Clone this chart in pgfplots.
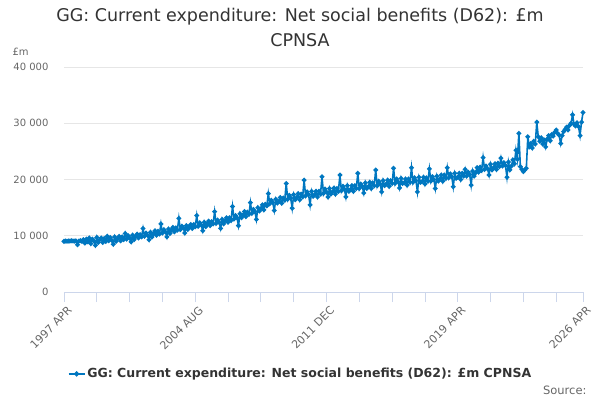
\documentclass[border=0pt]{standalone}
\usepackage{pgfplots}
\usepackage{pgfplotstable}
\pgfplotsset{compat=1.18}
\usepackage{fontspec}
\setmainfont{DejaVu Sans}
\definecolor{ons}{HTML}{0077C0}
\definecolor{axgray}{HTML}{CCD6EB}
\definecolor{gridgray}{HTML}{E6E6E6}
\definecolor{labgray}{HTML}{666666}
\definecolor{txt}{HTML}{333333}
\pgfplotstableread{
v
9000
9050
9020
9080
9050
9100
9060
9040
9100
8400
9050
9120
9000
9300
8700
9400
8900
9600
8600
9400
9100
8300
9700
8800
9300
9600
8800
9500
9000
9900
9100
9700
9200
8500
9800
9000
9500
9900
9100
9800
9300
10400
9400
10000
9600
8900
10100
9300
9900
10300
9600
10200
9800
11300
9900
10500
10100
9300
10600
9800
10400
10900
10100
10800
10300
12100
10500
11100
10700
9800
11200
10400
11000
11500
10700
11400
11000
13100
11100
11700
11400
10500
11800
11100
11600
12000
11300
12000
11600
13600
11700
12300
11900
10900
12400
11600
12100
12600
11800
12500
12100
14300
12200
12800
12400
11300
12900
12100
12700
13200
12400
13200
12700
15200
13000
13600
13200
11800
13900
13200
13700
14300
13400
14200
13800
15900
14000
14700
14300
12900
15000
14400
14800
15500
14600
15600
15300
17500
15700
16300
15900
14500
16500
15800
16100
16800
15800
16700
16300
19300
16500
17200
16700
14900
17300
16400
16800
17500
16400
17400
16900
19900
17100
17800
17300
15500
17900
17000
17300
17900
16900
17900
17400
20500
17500
18300
17800
16900
18400
17400
17800
18500
17400
18400
17900
20800
18000
18800
18300
16900
18900
17900
18200
18900
17900
18900
18400
21100
18400
19200
18800
17600
19400
18400
18700
19500
18400
19400
18900
21700
18900
19700
19200
17800
19800
18900
19200
19900
18800
19800
19300
22000
19300
20100
19600
18500
20200
19300
19400
20100
19000
20100
19500
22100
19500
20300
19800
17800
20400
19500
19600
20400
19200
20300
19700
21900
19700
20500
20000
18400
20600
19700
20100
20800
19700
20800
20200
22100
20300
21000
20500
18700
21100
20200
20400
21100
20000
21100
20600
21800
20600
21300
20900
19000
21500
20600
21200
22100
21300
22200
21600
23900
21800
22400
21900
20800
22700
21700
22100
22800
21800
22900
22300
23800
22400
23000
22500
20400
23100
21700
22400
23500
22800
25200
23600
28200
22300
21800
21400
21700
22000
27600
25800
26400
25600
26800
26300
30200
27600
26800
27400
26300
27000
25800
27200
27800
26900
28000
27700
28400
28800
28200
27900
26400
27800
28500
28900
29300
28800
29600
30000
31500
29800
29500
30100
29400
27800
30200
31900
}\datatable
\begin{document}
\begin{tikzpicture}
\useasboundingbox (0,0) rectangle (600pt,400pt);
\begin{axis}[
  at={(64pt,108pt)}, anchor=south west,
  scale only axis, width=519pt, height=225pt,
  xmin=0, xmax=348, ymin=0, ymax=40000,
  scaled y ticks=false,
  axis x line*=bottom, axis y line*=left,
  x axis line style={draw=axgray, line width=0.8pt},
  y axis line style={draw=none},
  ytick={0,10000,20000,30000,40000},
  yticklabels={0,10 000,20 000,30 000,40 000},
  ymajorgrids, grid style={gridgray, line width=0.8pt},
  major y tick style={draw=none},
  yticklabel style={font=\fontsize{10}{12}\selectfont, text=labgray, xshift=-2pt},
  xtick={0,88,176,264,348},
  xticklabels={1997 APR,2004 AUG,2011 DEC,2019 APR,2026 APR},
  minor xtick={22,44,66,110,132,154,198,220,242,286,308,330},
  tick align=outside,
  major tick length=10pt, minor tick length=10pt,
  x tick style={draw=axgray, line width=0.8pt},
  xticklabel style={font=\fontsize{11}{13}\selectfont, text=labgray, rotate=45, anchor=north east, xshift=3pt, yshift=-1pt},
  legend style={at={(0.4557,-0.364)}, anchor=center, draw=none, fill=none,
    font=\fontsize{12.5}{14}\selectfont\bfseries, text=txt, legend cell align=left},
  legend image code/.code={\draw[ons, line width=1.5pt] (0pt,0pt) -- (16pt,0pt); \fill[ons] (8pt,0pt) circle (1.8pt);},
  clip=false,
]
\addplot[ons, line width=1.6pt, mark=*, mark size=1.5pt, mark options={fill=ons, draw=ons}] table[x expr=\coordindex, y=v] {\datatable};
\addlegendentry{GG: Current expenditure: Net social benefits (D62): £m CPNSA}
\end{axis}
\node[font=\fontsize{17.5}{20}\selectfont, text=txt] at (300pt,383pt) {GG: Current expenditure: Net social benefits (D62): £m};
\node[font=\fontsize{17.5}{20}\selectfont, text=txt] at (300pt,360pt) {CPNSA};
\node[font=\fontsize{10}{12}\selectfont, text=labgray, anchor=west] at (9pt,348pt) {£m};
\node[font=\fontsize{11.5}{13}\selectfont, text=labgray, anchor=east] at (590pt,10pt) {Source:};
\end{tikzpicture}
\end{document}
